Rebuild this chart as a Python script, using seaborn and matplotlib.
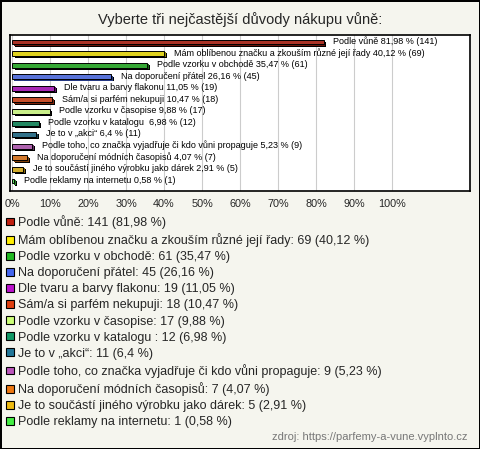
# horizontal bar chart: Vyberte tři nejčastější důvody nákupu vůně
import matplotlib
matplotlib.use("Agg")
import matplotlib.pyplot as plt
import matplotlib.patheffects as pe
from matplotlib.patches import Patch
import seaborn as sns

# answers, counts and percentages
reasons = [
    "Podle vůně",
    "Mám oblíbenou značku a zkouším různé její řady",
    "Podle vzorku v obchodě",
    "Na doporučení přátel",
    "Dle tvaru a barvy flakonu",
    "Sám/a si parfém nekupuji",
    "Podle vzorku v časopise",
    "Podle vzorku v katalogu ",
    "Je to v „akci“",
    "Podle toho, co značka vyjadřuje či kdo vůni propaguje",
    "Na doporučení módních časopisů",
    "Je to součástí jiného výrobku jako dárek",
    "Podle reklamy na internetu",
]
counts = [141, 69, 61, 45, 19, 18, 17, 12, 11, 9, 7, 5, 1]
percents = [81.98, 40.12, 35.47, 26.16, 11.05, 10.47, 9.88, 6.98, 6.4, 5.23, 4.07, 2.91, 0.58]
colors = ["#c02010", "#ffee00", "#22bb22", "#4466ee", "#bb11cc", "#e04010", "#ccff77",
          "#119966", "#227799", "#bb55bb", "#ee7711", "#eebb11", "#44ee44"]
x_ticks = list(range(0, 101, 10))


def fmt(p):
    return f"{p:g}".replace(".", ",")


sns.set_theme(style="white")
plt.rcParams["font.family"] = ["Liberation Sans", "DejaVu Sans"]

bg = "#f5f5ee"
fig = plt.figure(figsize=(4.8, 4.49), dpi=100, facecolor=bg)
fig.patch.set_edgecolor("black")
fig.patch.set_linewidth(2)

ax = fig.add_axes([10 / 480, 1 - 191 / 449, 460 / 480, 156 / 449])
ax.set_facecolor("white")

sns.barplot(x=percents, y=reasons, hue=reasons, palette=colors, legend=False,
            orient="h", width=0.42, edgecolor="black", linewidth=0.7, ax=ax)

# fake 3D depth with a shadow behind each bar
for patch, c in zip(ax.patches, colors):
    rgb = matplotlib.colors.to_rgb(c)
    dark = tuple(v * 0.55 for v in rgb)
    patch.set_path_effects([
        pe.SimplePatchShadow(offset=(2.0, -1.6), shadow_rgbFace="black", alpha=1),
        pe.SimplePatchShadow(offset=(1.3, -1.0), shadow_rgbFace=dark, alpha=1),
        pe.Normal(),
    ])

# value labels next to the bars
for i, (name, p, n) in enumerate(zip(reasons, percents, counts)):
    ax.annotate(f"{name} {fmt(p)} % ({n})", xy=(p, i), xytext=(7, 0.5),
                textcoords="offset points", va="center", ha="left",
                fontsize=6.5, color="black")

ax.set_xlim(-0.53, 120.5)
ax.set_ylim(12.86, -0.6)
ax.set_xticks(x_ticks)
ax.set_xticklabels([f"{v}%" for v in x_ticks], fontsize=7.8)
ax.set_yticks([])
ax.set_xlabel("")
ax.set_ylabel("")
ax.tick_params(axis="x", length=0, pad=5.5)
ax.grid(axis="x", color="#cccccc", linewidth=0.8)
ax.set_axisbelow(True)
for s in ax.spines.values():
    s.set_visible(True)
    s.set_color("black")
    s.set_linewidth(1.2)

# title
fig.text(0.5, 1 - 20 / 449, "Vyberte tři nejčastější důvody nákupu vůně:",
         ha="center", va="center", fontsize=10.5)

# legend below the chart
handles = [Patch(facecolor=c, edgecolor="black", linewidth=0.8) for c in colors]
labels = [f"{name}: {n} ({fmt(p)} %)" for name, p, n in zip(reasons, percents, counts)]
fig.legend(handles, labels, loc="upper left", bbox_to_anchor=(6 / 480, 1 - 215 / 449),
           frameon=False, fontsize=9, handlelength=0.6, handleheight=0.6,
           handletextpad=0.35, labelspacing=0.33, borderpad=0, borderaxespad=0)

# source
fig.text(468 / 480, 1 - 437 / 449, "zdroj: https://parfemy-a-vune.vyplnto.cz",
         ha="right", va="center", fontsize=8, color="#777777")

fig.savefig("out.png", dpi=100, facecolor=bg, edgecolor="black")
